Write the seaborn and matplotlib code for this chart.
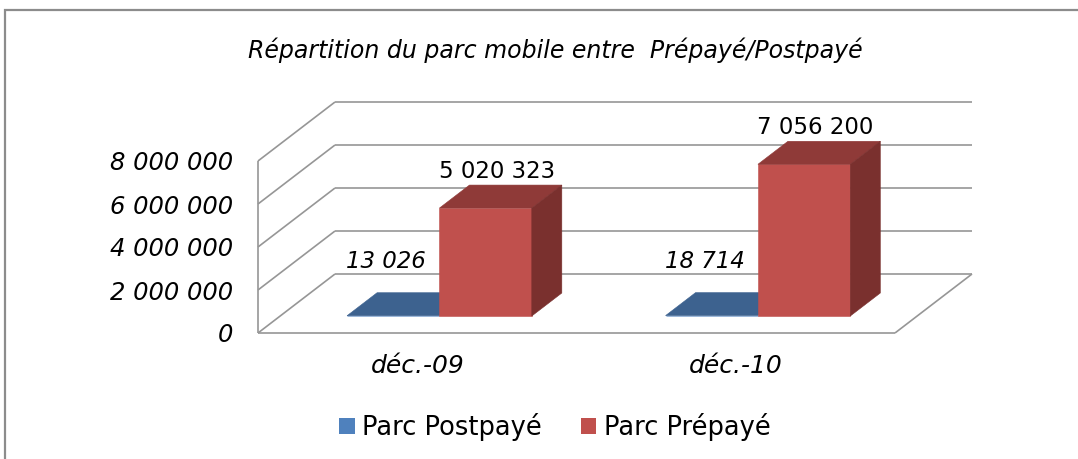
"""Excel-style 3D column chart: mobile subscriber base, prepaid vs postpaid."""

import matplotlib

matplotlib.use("Agg")
import matplotlib.pyplot as plt
import pandas as pd
import seaborn as sns
from matplotlib.patches import Polygon, Rectangle
from matplotlib.transforms import Affine2D

# --------------------------------------------------------------------------- #
# Data
# --------------------------------------------------------------------------- #

periods = ["déc.-09", "déc.-10"]
postpaid = [13026, 18714]
prepaid = [5020323, 7056200]
series_names = ["Parc Postpayé", "Parc Prépayé"]
y_ticks = [0, 2000000, 4000000, 6000000, 8000000]
title = "Répartition du parc mobile entre  Prépayé/Postpayé"

front_colors = ["#4f81bd", "#c0504d"]
top_colors = ["#3d628f", "#8f3a38"]
side_colors = ["#34547c", "#7a302e"]
label_offsets = [(-22, 43), (-4, 25)]  # pixels, per series
label_styles = ["italic", "normal"]

df = pd.DataFrame(
    {
        "period": periods * 2,
        "series": [series_names[0]] * len(periods) + [series_names[1]] * len(periods),
        "value": postpaid + prepaid,
    }
)

# --------------------------------------------------------------------------- #
# Figure / axes (axes = front plane of the 3D box)
# --------------------------------------------------------------------------- #

W, H, DPI = 1078, 459, 100
sns.set_theme(style="white")
plt.rcParams["font.family"] = ["DejaVu Sans"]

fig = plt.figure(figsize=(W / DPI, H / DPI), dpi=DPI)
ax = fig.add_axes([258 / W, 126 / H, 637 / W, 172 / H])
ax.patch.set_alpha(0)

sns.barplot(
    data=df,
    x="period",
    y="value",
    hue="series",
    palette=front_colors,
    saturation=1,
    width=0.58,
    errorbar=None,
    ax=ax,
)
if ax.legend_ is not None:
    ax.legend_.remove()

ax.set_xlim(-0.5, 1.5)
ax.set_ylim(0, y_ticks[-1])

# depth vector of the box in data units (77 px right, 59 px up)
px_per_x = 637 / 2
px_per_y = 172 / y_ticks[-1]
DX = 77 / px_per_x
DY = 59 / px_per_y
d0, d1 = 0.288, 0.678  # bar depth range (fraction of box depth)

grid_kw = dict(color="#969696", lw=1.2, clip_on=False, zorder=1, solid_capstyle="butt")

# back wall + left wall
for t in y_ticks:
    ax.plot([-0.5 + DX, 1.5 + DX], [t + DY, t + DY], **grid_kw)
    ax.plot([-0.5, -0.5 + DX], [t, t + DY], **grid_kw)
ax.plot([-0.5, -0.5], [0, y_ticks[-1]], **grid_kw)
# floor front + right edges
ax.plot([-0.5, 1.5], [0, 0], **grid_kw)
ax.plot([1.5, 1.5 + DX], [0, DY], **grid_kw)

# --------------------------------------------------------------------------- #
# 3D bars built from the seaborn patches
# --------------------------------------------------------------------------- #

shift = Affine2D().translate(d0 * DX, d0 * DY)
dm = (d0 + d1) / 2
for si, container in enumerate(ax.containers):
    for ci, bar in enumerate(container.patches):
        z = 3 + ci + 0.1 * si
        x0, w, h = bar.get_x(), bar.get_width(), bar.get_height()
        bar.set_transform(shift + ax.transData)
        bar.set_clip_on(False)
        bar.set_zorder(z)
        bar.set_edgecolor(front_colors[si])
        bar.set_linewidth(0.4)

        def pt(x, y, d):
            return (x + d * DX, y + d * DY)

        top = [pt(x0, h, d0), pt(x0 + w, h, d0), pt(x0 + w, h, d1), pt(x0, h, d1)]
        side = [pt(x0 + w, 0, d0), pt(x0 + w, h, d0), pt(x0 + w, h, d1), pt(x0 + w, 0, d1)]
        ax.add_patch(Polygon(top, closed=True, fc=top_colors[si], ec=top_colors[si],
                             lw=0.4, zorder=z, clip_on=False))
        if h > 0.01 * y_ticks[-1]:
            ax.add_patch(Polygon(side, closed=True, fc=side_colors[si], ec=side_colors[si],
                                 lw=0.4, zorder=z, clip_on=False))

        ax.annotate(
            f"{int(h):,}".replace(",", " "),
            xy=(x0 + w / 2 + dm * DX, h + dm * DY),
            xytext=label_offsets[si],
            textcoords="offset pixels",
            ha="center",
            va="center",
            fontsize=16.5,
            style=label_styles[si],
            color="#000000",
            annotation_clip=False,
            zorder=20,
        )

# --------------------------------------------------------------------------- #
# Axes text
# --------------------------------------------------------------------------- #

ax.set_yticks(y_ticks)
ax.set_yticklabels([f"{t:,}".replace(",", " ") for t in y_ticks])
ax.tick_params(axis="y", length=0, pad=18, labelsize=17.5, labelcolor="#000000")
ax.tick_params(axis="x", length=0, pad=15, labelsize=18, labelcolor="#000000")
for lbl in ax.get_yticklabels() + ax.get_xticklabels():
    lbl.set_style("italic")
ax.set_xlabel("")
ax.set_ylabel("")
for s in ax.spines.values():
    s.set_visible(False)
ax.grid(False)

fig.text(555 / W, 1 - 50 / H, title, ha="center", va="center",
         style="italic", fontsize=17, color="#000000")

handles = [Rectangle((0, 0), 1, 1, fc=c, ec="none") for c in front_colors]
fig.legend(
    handles,
    series_names,
    loc="center",
    bbox_to_anchor=(555 / W, 1 - 427 / H),
    ncol=2,
    frameon=False,
    fontsize=18.5,
    labelcolor="#000000",
    handlelength=0.6,
    handleheight=0.6,
    handletextpad=0.3,
    columnspacing=1.5,
)

# outer chart frame (cropped on right and bottom)
fig.add_artist(Rectangle((5 / W, -0.1), 1.2, 1 - 10 / H + 0.1, transform=fig.transFigure,
                         fill=False, edgecolor="#8c8c8c", lw=1.6))

fig.savefig("out.png", dpi=DPI)
plt.close(fig)
